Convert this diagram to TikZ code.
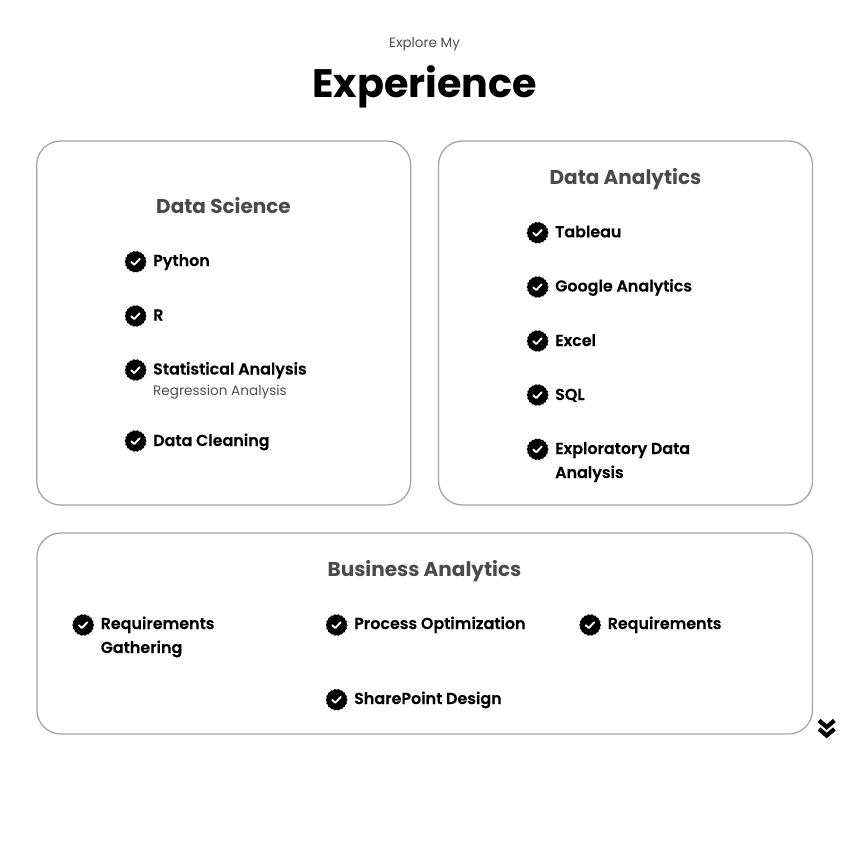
\documentclass[tikz,border=0pt]{standalone}
\usepackage{fontspec}
\setmainfont{Poppins}
\newfontfamily\semib[FakeBold=0.12]{Poppins SemiBold}
\definecolor{headgray}{HTML}{4A4A4A}
\definecolor{cardline}{HTML}{A3A3A3}
\definecolor{subgray}{HTML}{4F4F4F}
\tikzset{
  x=1pt,y=-1pt,
  card/.style={draw=cardline,line width=1.25pt,rounded corners=24pt,fill=white},
  head/.style={anchor=base,inner sep=0pt,text=headgray,font=\bfseries\fontsize{20}{24}\selectfont},
  item/.style={anchor=base west,inner sep=0pt,font=\semib\fontsize{15.9}{24}\selectfont,align=left,text=black},
  sub/.style={anchor=base west,inner sep=0pt,font=\fontsize{13.6}{18}\selectfont,text=subgray},
  chev/.style={draw=black,line width=4.2pt,miter limit=10},
}
\newcommand{\chk}[2]{%
  \begin{scope}[shift={(#1,#2)}]
    \fill[black] (0:10.9)
      \foreach \a in {1,...,35}{ -- ({\a*10}:{mod(\a,2)==0 ? 10.9 : 10.0}) } -- cycle;
    \draw[white,line width=1.9pt,line cap=round,line join=round] (-4.4,0.2) -- (-1.4,3) -- (4.2,-2.8);
  \end{scope}}
\begin{document}
\begin{tikzpicture}
\useasboundingbox (0,0) rectangle (850,841);
\fill[white] (0,0) rectangle (850,841);
\node[inner sep=0pt,font=\fontsize{13.5}{16}\selectfont,text=subgray] (kicker) at (424.5,44) {Explore My};
\node[anchor=base,inner sep=0pt,font=\bfseries\fontsize{39.7}{46}\selectfont] (title) at (424.8,97) {Experience};
\node[card,minimum width=374pt,minimum height=364pt] (c1) at (223.7,323) {};
\node[card,minimum width=374pt,minimum height=364pt] (c2) at (625.5,323) {};
\node[card,minimum width=775.6pt,minimum height=201pt] (c3) at (424.7,633.5) {};
\node[head] (h1) at (223.5,213) {Data Science};
\node[head] (h2) at (625.5,184) {Data Analytics};
\node[head] (h3) at (424.5,576) {Business Analytics};
% Data Science
\chk{135.6}{261.7}\node[item] (a1) at (153,266) {Python};
\chk{135.6}{316}\node[item] (a2) at (153,320.5) {R};
\chk{135.6}{370}\node[item] (a3) at (153,374.5) {Statistical Analysis};
\node[sub] (a3s) at (153,395.7) {Regression Analysis};
\chk{135.6}{441}\node[item] (a4) at (153,446) {Data Cleaning};
% Data Analytics
\chk{537.6}{232.7}\node[item] (b1) at (555,237.3) {Tableau};
\chk{537.6}{287}\node[item] (b2) at (555,291.5) {Google Analytics};
\chk{537.6}{341}\node[item] (b3) at (555,346) {Excel};
\chk{537.6}{395}\node[item] (b4) at (555,400) {SQL};
\chk{537.6}{449.3}\node[item] (b5) at (555,454) {Exploratory Data};
\node[item] (b5b) at (555,478) {Analysis};
% Business Analytics
\chk{83.2}{625}\node[item] (d1) at (100.5,629) {Requirements};
\node[item] (d1b) at (100.5,653) {Gathering};
\chk{336.6}{625}\node[item] (d2) at (354,629) {Process Optimization};
\chk{590.1}{625}\node[item] (d3) at (607.5,629) {Requirements};
\chk{336.6}{699.7}\node[item] (d4) at (354,704) {SharePoint Design};
% chevrons
\draw[chev] (819,720.5) -- (826.7,727) -- (834.4,720.5);
\draw[chev] (819,729) -- (826.7,735.5) -- (834.4,729);
\end{tikzpicture}
\end{document}
